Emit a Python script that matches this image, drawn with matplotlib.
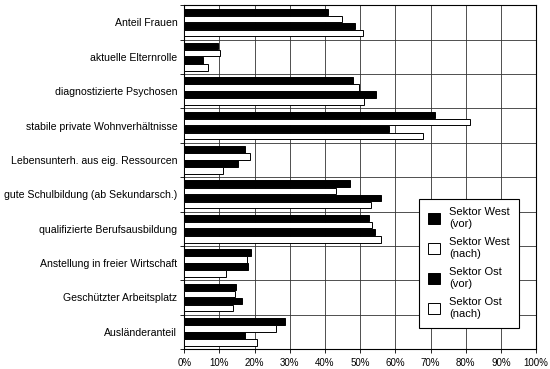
import numpy as np
import matplotlib.pyplot as plt
from matplotlib.ticker import FixedLocator, PercentFormatter

plt.rcParams['font.family'] = ['Liberation Sans', 'DejaVu Sans']

# Daten (Anteile in %)
kategorien = ['Anteil Frauen', 'aktuelle Elternrolle', 'diagnostizierte Psychosen',
              'stabile private Wohnverhältnisse', 'Lebensunterh. aus eig. Ressourcen',
              'gute Schulbildung (ab Sekundarsch.)', 'qualifizierte Berufsausbildung',
              'Anstellung in freier Wirtschaft', 'Geschützter Arbeitsplatz', 'Ausländeranteil']
west_vor = [40.9, 9.7, 48.0, 71.1, 17.3, 47.0, 52.5, 19.0, 14.7, 28.6]
west_nach = [44.7, 10.2, 49.7, 81.2, 18.7, 43.0, 53.2, 17.9, 14.4, 26.1]
ost_vor = [48.4, 5.2, 54.4, 58.2, 15.4, 56.0, 54.3, 18.0, 16.3, 17.3]
ost_nach = [50.8, 6.7, 51.2, 67.8, 10.9, 53.0, 55.8, 11.8, 13.8, 20.6]

serien = [('Sektor West\n(vor)', west_vor, 'black'),
          ('Sektor West\n(nach)', west_nach, 'white'),
          ('Sektor Ost\n(vor)', ost_vor, 'black'),
          ('Sektor Ost\n(nach)', ost_nach, 'white')]

fig = plt.figure(figsize=(5.5, 3.69), dpi=100)
ax = fig.add_axes([0.335, 0.054, 0.64, 0.932])

y = np.arange(len(kategorien))
h = 0.205
for i, (name, werte, farbe) in enumerate(serien):
    ax.barh(y + (i - 1.5) * h, werte, height=h * 0.92, color=farbe,
            edgecolor='black', linewidth=0.7, label=name, zorder=3)

ax.set_xlim(0, 100)
ax.set_ylim(len(kategorien) - 0.5, -0.5)
ax.xaxis.set_major_locator(FixedLocator(np.arange(0, 101, 10)))
ax.xaxis.set_major_formatter(PercentFormatter(decimals=0))
ax.set_yticks(y)
ax.set_yticklabels(kategorien)
ax.yaxis.set_minor_locator(FixedLocator(np.arange(-0.5, len(kategorien), 1)))
ax.tick_params(axis='y', which='major', length=0, pad=5, labelsize=7.6)
ax.tick_params(axis='y', which='minor', length=3, width=0.6)
ax.tick_params(axis='x', which='major', length=3, width=0.6, labelsize=7)
ax.grid(axis='x', which='major', color='#333333', linewidth=0.6, zorder=0)
ax.grid(axis='y', which='minor', color='#333333', linewidth=0.6, zorder=0)
for s in ax.spines.values():
    s.set_linewidth(0.8)

leg = ax.legend(loc='lower left', bbox_to_anchor=(0.668, 0.062), fontsize=8,
                frameon=True, fancybox=False, edgecolor='black', framealpha=1,
                handlelength=1.1, handleheight=1.1, labelspacing=0.75,
                borderpad=0.8, handletextpad=0.8, borderaxespad=0)
leg.get_frame().set_linewidth(0.8)

fig.savefig('out.png', dpi=100)
